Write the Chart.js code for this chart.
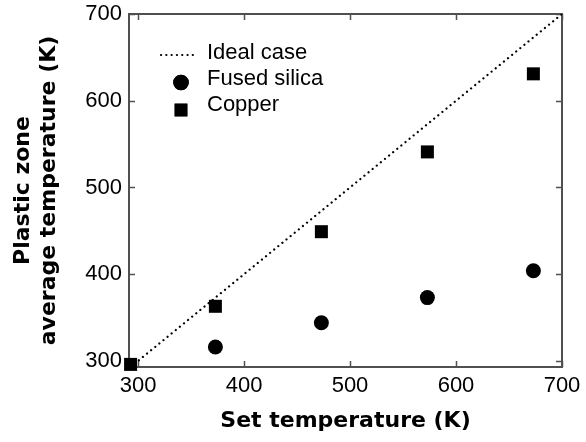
<!doctype html>
<html lang="en">
<head>
<meta charset="utf-8">
<title>Plastic zone average temperature</title>
<script src="https://cdn.jsdelivr.net/npm/chart.js@4.4.1/dist/chart.umd.min.js"></script>
<style>
  html, body { margin: 0; padding: 0; background: #fff; }
  #wrap { width: 586px; height: 442px; }
</style>
</head>
<body>
<div id="wrap"><canvas id="myChart" width="586" height="442"></canvas></div>
<script>
// set temperature (K) and measured plastic zone average temperature (K)
var setTemp = [293, 373, 473, 573, 673];
var fusedSilica = [null, 316, 344, 373, 404];
var copper = [296, 363, 449, 541, 631];
var idealEnds = [293, 700];
var xTicks = [300, 400, 500, 600, 700];
var yTicks = [300, 400, 500, 600, 700];

var FONT = "'Liberation Sans', Arial, sans-serif";
var TITLE_FONT = "'DejaVu Sans', Verdana, sans-serif";
var FRAME = '#505050';

function pts(xs, ys) {
  return xs.map(function (x, i) { return { x: x, y: ys[i] }; });
}

// box around the plot plus inward ticks on all four sides
var frameTicks = {
  id: 'frameTicks',
  beforeDatasetsDraw: function (chart) {
    var a = chart.chartArea, ctx = chart.ctx;
    var xs = chart.scales.x, ys = chart.scales.y, len = 6;
    ctx.save();
    ctx.strokeStyle = FRAME;
    ctx.lineWidth = 2;
    ctx.strokeRect(a.left, a.top, a.right - a.left, a.bottom - a.top);
    ctx.lineWidth = 1.5;
    ctx.beginPath();
    xTicks.forEach(function (v) {
      var px = Math.round(xs.getPixelForValue(v)) + 0.5;
      ctx.moveTo(px, a.bottom); ctx.lineTo(px, a.bottom - len);
      ctx.moveTo(px, a.top); ctx.lineTo(px, a.top + len);
    });
    yTicks.forEach(function (v) {
      var py = Math.round(ys.getPixelForValue(v)) + 0.5;
      ctx.moveTo(a.left, py); ctx.lineTo(a.left + len, py);
      ctx.moveTo(a.right, py); ctx.lineTo(a.right - len, py);
    });
    ctx.stroke();
    ctx.restore();
  }
};

// legend drawn inside the plot, top left
var innerLegend = {
  id: 'innerLegend',
  afterDraw: function (chart) {
    var ctx = chart.ctx;
    var rows = [53, 79, 105];
    var symDy = [2, 3.5, 5];
    ctx.save();
    ctx.font = '22px ' + FONT;
    ctx.fillStyle = '#000';
    ctx.textBaseline = 'middle';
    chart.data.datasets.forEach(function (ds, i) {
      var y = rows[i], sy = y + symDy[i];
      if (ds.showLine) {
        ctx.save();
        ctx.strokeStyle = ds.borderColor;
        ctx.lineWidth = ds.borderWidth;
        ctx.lineCap = 'round';
        ctx.setLineDash(ds.borderDash);
        ctx.beginPath();
        ctx.moveTo(161, sy); ctx.lineTo(197, sy);
        ctx.stroke();
        ctx.restore();
      } else {
        Chart.helpers.drawPoint(ctx, {
          pointStyle: ds.pointStyle,
          radius: ds.legendRadius,
          rotation: 0,
          borderWidth: 0
        }, 181, sy);
        ctx.fill();
      }
      ctx.fillText(ds.label, 207, y);
    });
    ctx.restore();
  }
};

function fixScale(size, horiz) {
  return function (s) {
    if (horiz) s.height = size; else s.width = size;
    s.paddingTop = 0; s.paddingBottom = 0;
    s.paddingLeft = 0; s.paddingRight = 0;
  };
}

var ctx = document.getElementById('myChart').getContext('2d');
var myChart = new Chart(ctx, {
  type: 'scatter',
  data: {
    datasets: [{
      label: 'Ideal case',
      data: pts(idealEnds, idealEnds),
      showLine: true,
      borderColor: '#000',
      borderWidth: 2.2,
      borderDash: [0.1, 5.2],
      borderCapStyle: 'round',
      pointRadius: 0,
      fill: false
    }, {
      label: 'Fused silica',
      data: pts(setTemp, fusedSilica),
      pointStyle: 'circle',
      pointRadius: 7.5,
      legendRadius: 7.8,
      backgroundColor: '#000',
      borderWidth: 0,
      clip: false
    }, {
      label: 'Copper',
      data: pts(setTemp, copper),
      pointStyle: 'rect',
      pointRadius: 9.2,
      legendRadius: 9,
      backgroundColor: '#000',
      borderWidth: 0,
      clip: false
    }]
  },
  options: {
    responsive: false,
    animation: false,
    layout: { padding: { left: 0, right: 24, top: 14, bottom: 0 } },
    plugins: { legend: { display: false }, tooltip: { enabled: false } },
    scales: {
      x: {
        type: 'linear',
        min: 291.5,
        max: 700,
        afterBuildTicks: function (s) { s.ticks = xTicks.map(function (v) { return { value: v }; }); },
        afterFit: fixScale(75, true),
        grid: { display: false, drawTicks: false },
        border: { display: false },
        ticks: { color: '#000', font: { family: FONT, size: 22 }, padding: 6, maxRotation: 0 },
        title: {
          display: true,
          text: 'Set temperature (K)',
          color: '#000',
          font: { family: TITLE_FONT, size: 22, weight: 'bold' },
          padding: { top: 0, bottom: 8 }
        }
      },
      y: {
        type: 'linear',
        min: 293,
        max: 700,
        afterBuildTicks: function (s) { s.ticks = yTicks.map(function (v) { return { value: v }; }); },
        afterFit: fixScale(129, false),
        grid: { display: false, drawTicks: false },
        border: { display: false },
        ticks: { color: '#000', font: { family: FONT, size: 22 }, padding: 7 },
        title: {
          display: true,
          text: ['Plastic zone', 'average temperature (K)'],
          color: '#000',
          font: { family: TITLE_FONT, size: 22, weight: 'bold', lineHeight: 1.2 },
          padding: { top: 10, bottom: 0 }
        }
      }
    }
  },
  plugins: [frameTicks, innerLegend]
});
</script>
</body>
</html>
